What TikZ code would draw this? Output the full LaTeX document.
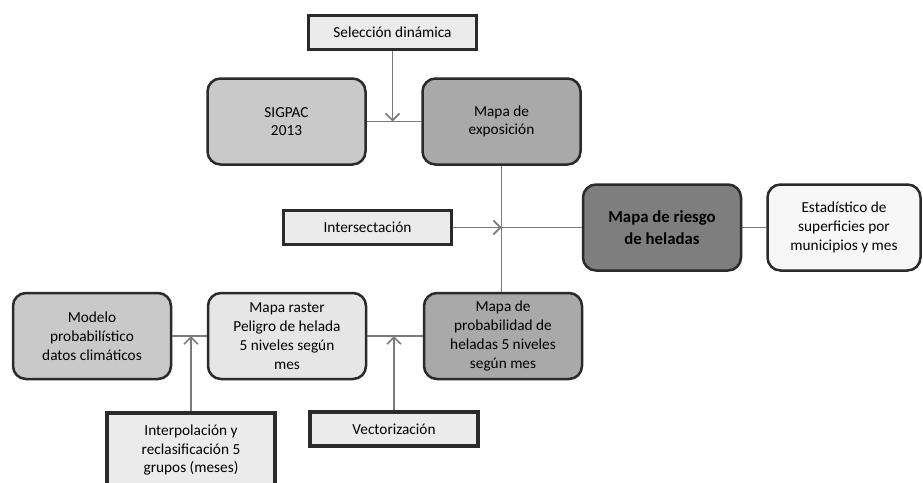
\documentclass[tikz,border=0pt]{standalone}
\usepackage{fontspec}
\setmainfont{Carlito}
\usepackage{tikz}
\usetikzlibrary{positioning}
\usetikzlibrary{calc}
\usetikzlibrary{arrows.meta,shapes}
\definecolor{lineone}{HTML}{2A2A2A}
\definecolor{linktwo}{HTML}{7A7A7A}
\definecolor{grayone}{HTML}{C9C9C9}
\definecolor{graytwo}{HTML}{A9A9A9}
\definecolor{graythree}{HTML}{7E7E7E}
\definecolor{grayfour}{HTML}{E6E6E6}
\definecolor{grayfive}{HTML}{F7F7F7}
\definecolor{graysix}{HTML}{EBEBEB}
\tikzset{
  roundbox/.style={draw=lineone, line width=2.5pt, rounded corners=13pt,
    minimum width=158pt, minimum height=86pt, inner sep=0pt,
    align=center, text=black, font=\fontsize{15.3}{18.8}\selectfont},
  opbox/.style={draw=lineone, line width=3.5pt, fill=graysix,
    minimum width=168pt, minimum height=34pt, inner sep=0pt,
    align=center, text=black, font=\fontsize{15.3}{18.8}\selectfont},
  link/.style={draw=linktwo, line width=1.6pt},
  flow/.style={link, -{Straight Barb[length=7pt,width=14pt,line width=1.6pt]}}
}

\begin{document}
\begin{tikzpicture}[x=1pt, y=-1pt]
\useasboundingbox (0,0) rectangle (923,482);

% upper row
\node[opbox] (sel) at (392.5,32.5) {Selección dinámica};
\node[roundbox, fill=grayone] (sigpac) at (286.5,121.5) {SIGPAC\\2013};
\node[roundbox, fill=graytwo] (expo) at (501.5,121.5) {Mapa de\\exposición};

% middle row
\node[opbox] (inter) at (367.5,227.5) {Intersectación};
\node[roundbox, fill=graythree, font=\fontsize{16.8}{22}\selectfont\bfseries]
  (riesgo) at (662,227.5) {Mapa de riesgo\\de heladas};
\node[roundbox, fill=grayfive, minimum width=153pt] (estad) at (844,227.5)
  {Estadístico de\\superficies por\\municipios y mes};

% lower row
\node[roundbox, fill=grayone] (modelo) at (92,336)
  {Modelo\\probabilístico\\datos climáticos};
\node[roundbox, fill=grayfour] (raster) at (287,336)
  {Mapa raster\\Peligro de helada\\5 niveles según\\mes};
\node[roundbox, fill=graytwo] (prob) at (503,336)
  {Mapa de\\probabilidad de\\heladas 5 niveles\\según mes};
\node[opbox, minimum height=74pt] (interp) at (191,450)
  {Interpolación y\\reclasificación 5\\grupos (meses)};
\node[opbox] (vect) at (394,429) {Vectorización};

% joints
\coordinate (jsel) at (sel.south |- sigpac.east);
\coordinate (jint) at (expo.south |- inter.east);
\coordinate (jinterp) at (interp.north |- modelo.east);
\coordinate (jvect) at (vect.north |- raster.east);

\draw[link] (sigpac.east) -- (expo.west);
\draw[flow] (sel.south) -- (jsel);
\draw[link] (expo.south) -- (expo.south |- prob.north);
\draw[flow] (inter.east) -- (jint);
\draw[link] (jint) -- (riesgo.west);
\draw[link] (riesgo.east) -- (estad.west);
\draw[link] (modelo.east) -- (raster.west);
\draw[flow] (interp.north) -- (jinterp);
\draw[link] (raster.east) -- (prob.west);
\draw[flow] (vect.north) -- (jvect);
\end{tikzpicture}
\end{document}
